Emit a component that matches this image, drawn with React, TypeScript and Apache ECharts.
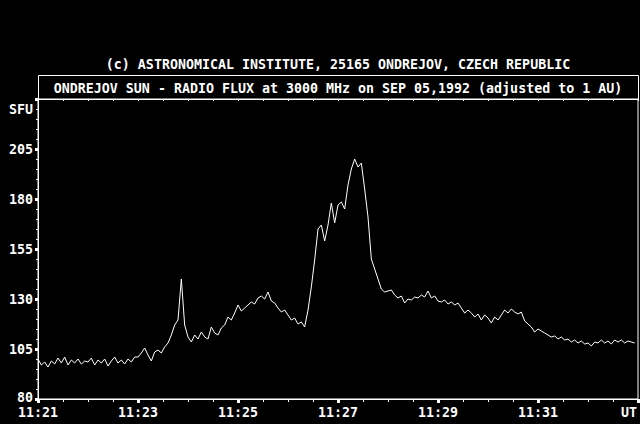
import React, { useEffect, useRef } from "react";
import * as echarts from "echarts";

// Sampling: one value every 4 seconds starting at 11:21:00 UT
const SAMPLE_STEP_S = 4;
const START_LABEL_MIN = 21; // 11:21

// Radio flux (SFU) per minute, 15 samples each
const flux1121 = [100, 97, 98.5, 96, 99, 97.5, 100.5, 98, 101, 97, 99.5, 98, 100, 97.5, 99];
const flux1122 = [98.5, 100.5, 97, 99.5, 98, 100, 96.5, 99, 101, 98, 99.5, 97.5, 100, 98.5, 101];
const flux1123 = [101, 103, 105.5, 102, 99, 103.5, 104.5, 103, 106, 108, 112, 117, 119.5, 140, 117];
const flux1124 = [111, 108.5, 112, 110, 113.5, 111, 110, 116, 113, 112, 115.5, 117, 121, 119.5, 123];
const flux1125 = [127, 124, 125.5, 127, 128.5, 127.5, 130.5, 131.5, 130, 133.5, 129, 128, 125.5, 123.5, 124.5];
const flux1126 = [122, 119.5, 120.5, 117.5, 118.5, 116, 124.5, 136, 149.5, 165, 167, 159, 167, 178, 168];
const flux1127 = [177, 178.5, 175, 187, 195, 200, 196, 198, 185, 171, 150, 145, 140, 135, 133.5];
const flux1128 = [134, 134.5, 132, 130.5, 131.5, 128, 130, 129.5, 131, 130.5, 132, 131, 134, 130.5, 131.5];
const flux1129 = [129, 128.5, 129.5, 127.5, 128.5, 127, 128, 125.5, 123, 124.5, 123, 121, 122.5, 119.5, 122];
const flux1130 = [120.5, 118, 121, 119.5, 122, 124.5, 123, 125, 123.5, 122.5, 123.5, 119, 117.5, 116, 113.5];
const flux1131 = [115, 114, 113, 112, 111, 111.5, 110, 111, 109.5, 110, 108.5, 109.5, 108, 109, 107.5];
const flux1132 = [108, 106.5, 108.5, 108, 109.5, 108, 109, 107.5, 109.5, 108.5, 109.5, 108, 109, 108.5, 108];

const fluxValues = [
  ...flux1121, ...flux1122, ...flux1123, ...flux1124, ...flux1125, ...flux1126,
  ...flux1127, ...flux1128, ...flux1129, ...flux1130, ...flux1131, ...flux1132,
];

const Y_MIN = 80;
const Y_MAX = 230;
const Y_STEP = 25;
const X_MAX_S = 720;
const X_LABEL_STEP_S = 120;

const topTitle = "(c) ASTRONOMICAL INSTITUTE, 25165 ONDREJOV, CZECH REPUBLIC";
const boxTitle = "ONDREJOV SUN - RADIO FLUX at 3000 MHz on SEP 05,1992 (adjusted to 1 AU)";
const yUnit = "SFU";
const xUnit = "UT";

const FONT = "'DejaVu Sans Mono', 'Liberation Mono', monospace";
const FS = 13.3;

export default function App() {
  const ref = useRef<HTMLDivElement>(null);

  useEffect(() => {
    if (!ref.current) return;
    const chart = echarts.init(ref.current, undefined, { renderer: "svg" });
    const data = fluxValues.map((v, i) => [i * SAMPLE_STEP_S, v]);
    const textBase = {
      fill: "#fff",
      fontFamily: FONT,
      fontSize: FS,
      fontWeight: "bold",
    };
    chart.setOption({
      animation: false,
      backgroundColor: "#000",
      grid: {
        left: 38,
        top: 99,
        width: 600,
        height: 300,
        show: true,
        borderColor: "#fff",
        borderWidth: 1,
        backgroundColor: "transparent",
      },
      xAxis: [
        {
          type: "value",
          min: 0,
          max: X_MAX_S,
          interval: X_LABEL_STEP_S,
          position: "bottom",
          axisLine: { show: true, lineStyle: { color: "#fff", width: 1 } },
          axisTick: { show: true, length: 4, lineStyle: { color: "#fff", width: 3 } },
          minorTick: { show: true, splitNumber: 4, length: 3, lineStyle: { color: "#fff", width: 1 } },
          splitLine: { show: false },
          axisLabel: {
            color: "#fff",
            fontFamily: FONT,
            fontSize: FS,
            fontWeight: "bold",
            lineHeight: 11,
            margin: 8,
            showMaxLabel: false,
            formatter: (v: number) => {
              if (v >= X_MAX_S) return "";
              const m = START_LABEL_MIN + Math.round(v / 60);
              return "11:" + String(m).padStart(2, "0");
            },
          },
        },
        {
          type: "value",
          min: 0,
          max: X_MAX_S,
          interval: 30,
          position: "top",
          axisLine: { show: true, lineStyle: { color: "#fff", width: 1 } },
          axisTick: { show: true, inside: true, length: 2, lineStyle: { color: "#fff", width: 1 } },
          axisLabel: { show: false },
          splitLine: { show: false },
        },
      ],
      yAxis: {
        type: "value",
        min: Y_MIN,
        max: Y_MAX,
        interval: Y_STEP,
        axisLine: { show: true, lineStyle: { color: "#fff", width: 1 } },
        axisTick: { show: true, length: 3, lineStyle: { color: "#fff", width: 3 } },
        minorTick: { show: true, splitNumber: 5, length: 2, lineStyle: { color: "#fff", width: 1 } },
        splitLine: { show: false },
        axisLabel: {
          color: "#fff",
          fontFamily: FONT,
          fontSize: FS,
          fontWeight: "bold",
          lineHeight: 11,
          margin: 5,
          showMaxLabel: false,
          formatter: (v: number) =>
            v >= Y_MAX ? "" : v === Y_MIN ? "{low|" + v + "}" : String(v),
          rich: {
            low: {
              color: "#fff",
              fontFamily: FONT,
              fontSize: FS,
              fontWeight: "bold",
              lineHeight: 11,
              padding: [0, 0, 4, 0],
            },
          },
        },
      },
      series: [
        {
          type: "line",
          xAxisIndex: 0,
          data,
          showSymbol: false,
          symbol: "none",
          lineStyle: { color: "#fff", width: 1 },
          clip: true,
        },
      ],
      graphic: [
        {
          type: "text",
          x: 338,
          y: 64,
          style: { ...textBase, text: topTitle, textAlign: "center", textVerticalAlign: "middle" },
        },
        {
          type: "rect",
          shape: { x: 38.5, y: 75.5, width: 600, height: 24 },
          style: { fill: "none", stroke: "#fff", lineWidth: 1 },
        },
        {
          type: "text",
          x: 338,
          y: 88,
          style: { ...textBase, text: boxTitle, textAlign: "center", textVerticalAlign: "middle" },
        },
        {
          type: "text",
          x: 33,
          y: 109,
          style: { ...textBase, text: yUnit, textAlign: "right", textVerticalAlign: "middle" },
        },
        {
          type: "text",
          x: 637,
          y: 412,
          style: { ...textBase, text: xUnit, textAlign: "right", textVerticalAlign: "middle" },
        },
      ],
    });
    return () => chart.dispose();
  }, []);

  return (
    <div
      ref={ref}
      style={{ position: "fixed", left: 0, top: 0, width: 640, height: 424, background: "#000" }}
    />
  );
}
